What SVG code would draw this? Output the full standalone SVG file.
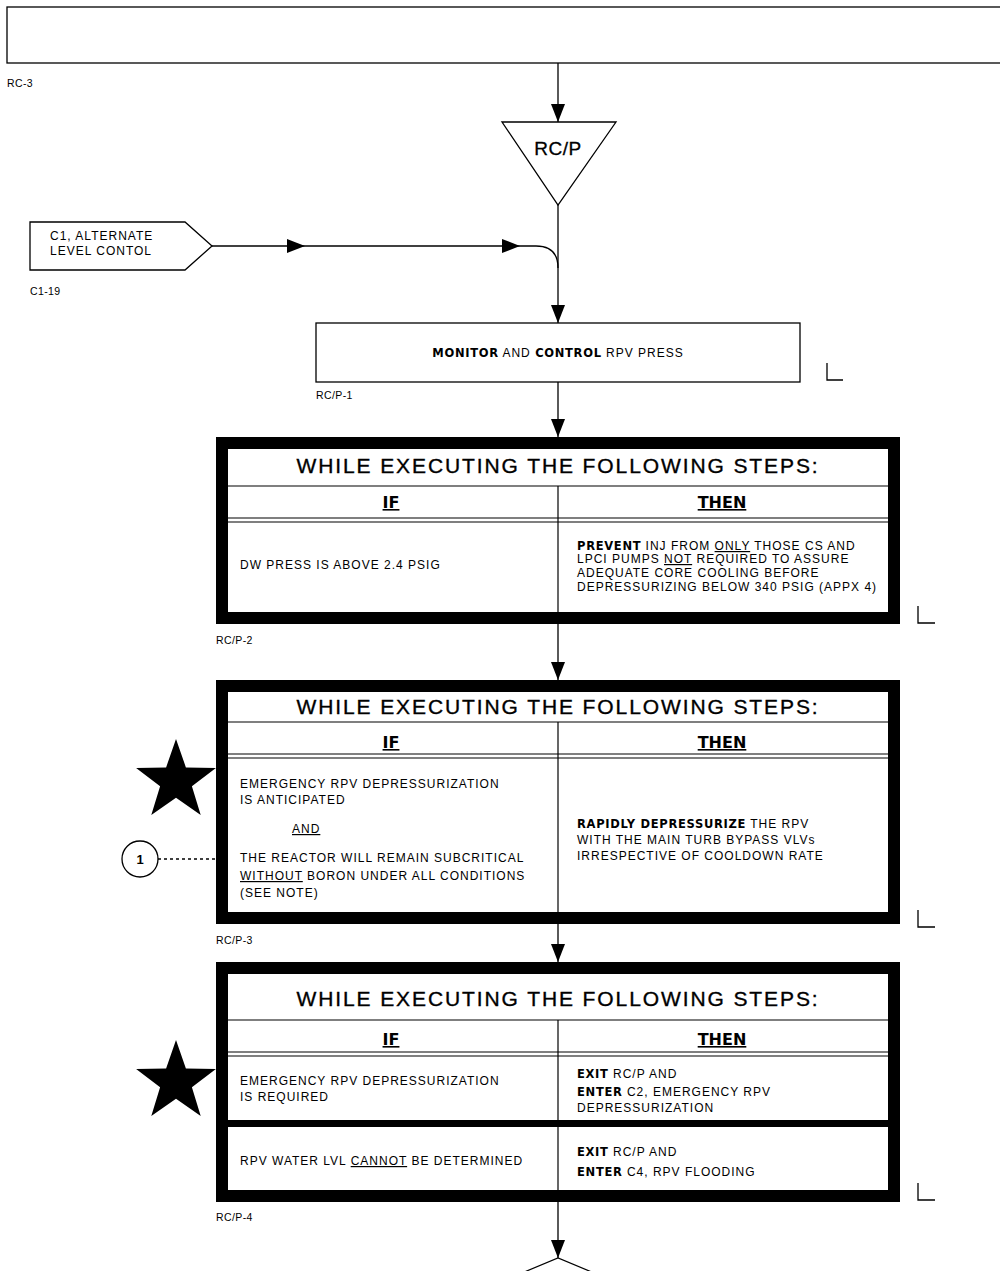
<svg xmlns="http://www.w3.org/2000/svg" width="1000" height="1271" viewBox="0 0 1000 1271">
  <style>
    .t { font-family: "Liberation Sans", Arial, sans-serif; font-size: 12px; letter-spacing: 1px; fill: #000; }
    .k { font-family: "DejaVu Sans", "Liberation Sans", sans-serif; font-weight: bold; font-size: 11.5px; letter-spacing: 0.7px; }
    .u { text-decoration: underline; }
    .lbl { font-family: "Liberation Sans", Arial, sans-serif; font-size: 10.5px; letter-spacing: 0.4px; fill: #000; }
    .title { font-family: "Liberation Sans", Arial, sans-serif; font-size: 21px; letter-spacing: 1.9px; text-anchor: middle; fill: #000; stroke: #000; stroke-width: 0.35; }
    .hd { font-family: "DejaVu Sans", "Liberation Sans", sans-serif; font-weight: bold; font-size: 16px; text-decoration: underline; text-anchor: middle; fill: #000; }
    .frame { fill: #fff; stroke: #000; stroke-width: 12; }
    .thin { stroke: #000; stroke-width: 1.2; fill: none; }
    .box { fill: #fff; stroke: #000; stroke-width: 1.3; }
    .conn { stroke: #000; stroke-width: 1.3; fill: none; }
    .mark { stroke: #000; stroke-width: 1.3; fill: none; }
  </style>
  <defs>
    <marker id="arr" viewBox="0 0 18 14" refX="18" refY="7" markerWidth="18" markerHeight="14" markerUnits="userSpaceOnUse" orient="auto">
      <path d="M0,0 L18,7 L0,14 z" fill="#000"/>
    </marker>
    <polygon id="star" points="0,-42 9.9,-13.6 39.9,-13 15.9,5.2 24.7,34 0,16.8 -24.7,34 -15.9,5.2 -39.9,-13 -9.9,-13.6" fill="#000"/>
  </defs>

  <rect width="1000" height="1271" fill="#fff"/>

  <!-- connectors -->
  <g id="connectors">
    <line class="conn" x1="558" y1="63" x2="558" y2="122" marker-end="url(#arr)"/>
    <line class="conn" x1="558" y1="205" x2="558" y2="323" marker-end="url(#arr)"/>
    <path class="conn" d="M212,246 L305,246" marker-end="url(#arr)"/>
    <path class="conn" d="M305,246 L520,246" marker-end="url(#arr)"/>
    <path class="conn" d="M520,246 H536 Q558,246 558,268"/>
    <line class="conn" x1="558" y1="382" x2="558" y2="437" marker-end="url(#arr)"/>
    <line class="conn" x1="558" y1="624" x2="558" y2="680" marker-end="url(#arr)"/>
    <line class="conn" x1="558" y1="924" x2="558" y2="962" marker-end="url(#arr)"/>
    <line class="conn" x1="558" y1="1202" x2="558" y2="1258" marker-end="url(#arr)"/>
    <line class="conn" x1="158" y1="859" x2="216" y2="859" stroke-dasharray="3,3"/>
  </g>

  <!-- entry bar from RC-3 -->
  <g id="rc3">
    <rect x="7" y="7" width="1010" height="56" class="box" fill="none" stroke-width="1.6"/>
    <text class="lbl" x="7" y="87">RC-3</text>
  </g>

  <!-- RC/P entry triangle -->
  <g id="rcp-entry">
    <polygon points="502,122 616,122 558,205" class="box" stroke-width="1.6"/>
    <text x="558" y="155" text-anchor="middle" font-family="Liberation Sans, Arial, sans-serif" font-size="19" letter-spacing="0.5" stroke="#000" stroke-width="0.3">RC/P</text>
  </g>

  <!-- off-page entry from C1 -->
  <g id="c1-entry">
    <polygon points="30,222 185,222 212,246 185,270 30,270" class="box" stroke-width="1.2"/>
    <text class="t" x="50" y="240" font-size="10.5" letter-spacing="0.7">C1, ALTERNATE</text>
    <text class="t" x="50" y="255" font-size="10.5" letter-spacing="0.7">LEVEL CONTOL</text>
    <text class="lbl" x="30" y="295">C1-19</text>
  </g>

  <!-- RC/P-1 -->
  <g id="rcp-1">
    <rect x="316" y="323" width="484" height="59" class="box"/>
    <text class="t" x="558" y="357" text-anchor="middle" font-size="11.5" letter-spacing="1.2"><tspan class="k" font-size="11">MONITOR</tspan> AND <tspan class="k" font-size="11">CONTROL</tspan> RPV PRESS</text>
    <text class="lbl" x="316" y="399">RC/P-1</text>
    <path class="mark" d="M827,363 V380 H843"/>
  </g>

  <!-- RC/P-2 -->
  <g id="rcp-2">
    <rect x="222" y="443" width="672" height="175" class="frame"/>
    <text class="title" x="558" y="473">WHILE EXECUTING THE FOLLOWING STEPS:</text>
    <line class="thin" x1="228" y1="486" x2="888" y2="486"/>
    <text class="hd" x="391" y="508">IF</text>
    <text class="hd" x="722" y="508">THEN</text>
    <line class="thin" x1="228" y1="518" x2="888" y2="518"/>
    <line class="thin" x1="228" y1="522" x2="888" y2="522"/>
    <line class="thin" x1="558" y1="486" x2="558" y2="612"/>
    <text class="t" x="240" y="569">DW PRESS IS ABOVE 2.4 PSIG</text>
    <text class="t" x="577" y="550"><tspan class="k">PREVENT</tspan> INJ FROM <tspan class="u">ONLY</tspan> THOSE CS AND</text>
    <text class="t" x="577" y="563">LPCI PUMPS <tspan class="u">NOT</tspan> REQUIRED TO ASSURE</text>
    <text class="t" x="577" y="577">ADEQUATE CORE COOLING BEFORE</text>
    <text class="t" x="577" y="591">DEPRESSURIZING BELOW 340 PSIG (APPX 4)</text>
    <text class="lbl" x="216" y="644">RC/P-2</text>
    <path class="mark" d="M918,606 V623 H935"/>
  </g>

  <!-- RC/P-3 -->
  <g id="rcp-3">
    <rect x="222" y="686" width="672" height="232" class="frame"/>
    <text class="title" x="558" y="714">WHILE EXECUTING THE FOLLOWING STEPS:</text>
    <line class="thin" x1="228" y1="722" x2="888" y2="722"/>
    <text class="hd" x="391" y="748">IF</text>
    <text class="hd" x="722" y="748">THEN</text>
    <line class="thin" x1="228" y1="754" x2="888" y2="754"/>
    <line class="thin" x1="228" y1="758" x2="888" y2="758"/>
    <line class="thin" x1="558" y1="722" x2="558" y2="912"/>
    <text class="t" x="240" y="788">EMERGENCY RPV DEPRESSURIZATION</text>
    <text class="t" x="240" y="804">IS ANTICIPATED</text>
    <text class="t u" x="292" y="833">AND</text>
    <text class="t" x="240" y="862">THE REACTOR WILL REMAIN SUBCRITICAL</text>
    <text class="t" x="240" y="880"><tspan class="u">WITHOUT</tspan> BORON UNDER ALL CONDITIONS</text>
    <text class="t" x="240" y="897">(SEE NOTE)</text>
    <text class="t" x="577" y="828"><tspan class="k">RAPIDLY DEPRESSURIZE</tspan> THE RPV</text>
    <text class="t" x="577" y="844">WITH THE MAIN TURB BYPASS VLVs</text>
    <text class="t" x="577" y="860">IRRESPECTIVE OF COOLDOWN RATE</text>
    <text class="lbl" x="216" y="944">RC/P-3</text>
    <path class="mark" d="M918,910 V927 H935"/>
  </g>

  <g id="star-3">
    <use href="#star" x="176" y="781"/>
  </g>

  <g id="note-1">
    <circle cx="140" cy="859" r="18" class="box" stroke-width="1.2"/>
    <text x="140" y="864" text-anchor="middle" font-family="Liberation Sans, Arial, sans-serif" font-size="13" font-weight="bold">1</text>
  </g>

  <!-- RC/P-4 -->
  <g id="rcp-4">
    <rect x="222" y="968" width="672" height="228" class="frame"/>
    <text class="title" x="558" y="1006">WHILE EXECUTING THE FOLLOWING STEPS:</text>
    <line class="thin" x1="228" y1="1020" x2="888" y2="1020"/>
    <text class="hd" x="391" y="1045">IF</text>
    <text class="hd" x="722" y="1045">THEN</text>
    <line class="thin" x1="228" y1="1052" x2="888" y2="1052"/>
    <line class="thin" x1="228" y1="1056" x2="888" y2="1056"/>
    <line class="thin" x1="558" y1="1020" x2="558" y2="1190"/>
    <rect x="228" y="1120" width="660" height="7" fill="#000"/>
    <text class="t" x="240" y="1085">EMERGENCY RPV DEPRESSURIZATION</text>
    <text class="t" x="240" y="1101">IS REQUIRED</text>
    <text class="t" x="577" y="1078"><tspan class="k">EXIT</tspan> RC/P AND</text>
    <text class="t" x="577" y="1096"><tspan class="k">ENTER</tspan> C2, EMERGENCY RPV</text>
    <text class="t" x="577" y="1112">DEPRESSURIZATION</text>
    <text class="t" x="240" y="1165">RPV WATER LVL <tspan class="u">CANNOT</tspan> BE DETERMINED</text>
    <text class="t" x="577" y="1156"><tspan class="k">EXIT</tspan> RC/P AND</text>
    <text class="t" x="577" y="1176"><tspan class="k">ENTER</tspan> C4, RPV FLOODING</text>
    <text class="lbl" x="216" y="1221">RC/P-4</text>
    <path class="mark" d="M918,1183 V1200 H935"/>
  </g>

  <g id="star-4">
    <use href="#star" x="176" y="1082"/>
  </g>

  <!-- next step symbol, continues below -->
  <g id="next">
    <polyline points="493,1285 558,1258 623,1285" class="thin" stroke-width="1.4"/>
  </g>
</svg>
